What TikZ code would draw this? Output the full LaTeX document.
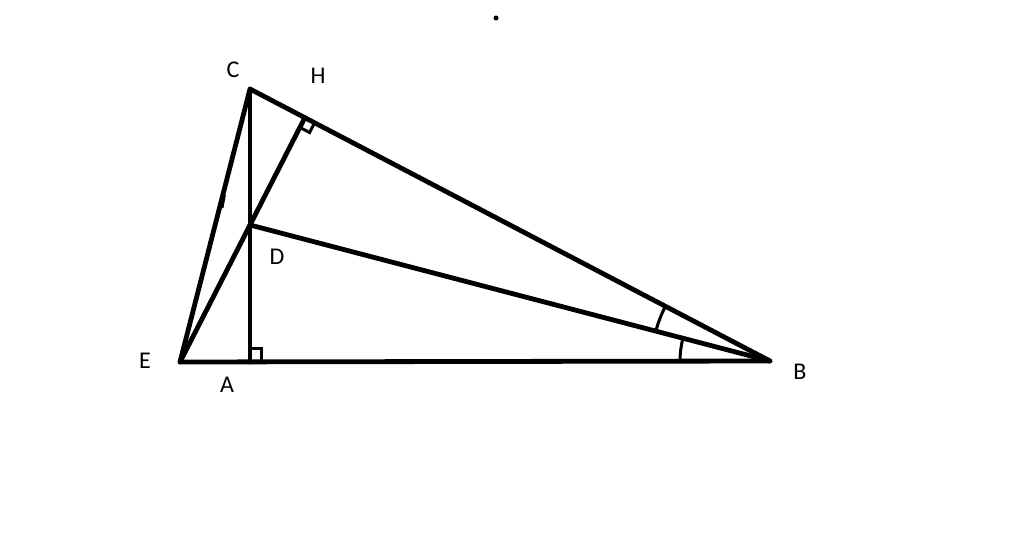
\documentclass[tikz,border=0pt]{standalone}
\usepackage{fontspec}
\setmainfont{Carlito}
\usetikzlibrary{calc}
\tikzset{
  seg/.style={line width=4.8pt, line cap=round, line join=round},
  angmark/.style={line width=3pt},
  lab/.style={font=\fontsize{24}{24}\selectfont, inner sep=0pt}
}
\begin{document}
\begin{tikzpicture}[x=1pt,y=1pt]
\useasboundingbox[fill=white] (0,0) rectangle (1024,559);
\coordinate (C) at (250,470);
\coordinate (A) at (250,197);
\coordinate (B) at (770,198);
\coordinate (E) at (180,197);
\coordinate (D) at (250,334);
\coordinate (H) at (intersection of E--D and C--B);
% main lines
\draw[seg] (E) -- (B) -- (C) -- cycle;
\draw[seg] (C) -- (A);
\draw[seg] (E) -- (H);
\draw[seg] (D) -- (B);
% right angle at A
\draw[angmark] ($(A)+(0,13)$) -- ($(A)+(11,13)$) -- ($(A)+(11,0)$);
% right angle at H
\coordinate (h1) at ($(H)!11pt!(B)$);
\coordinate (h2) at ($(H)!11pt!(E)$);
\coordinate (h3) at ($(h1)+(h2)-(H)$);
\draw[angmark] (h1) -- (h3) -- (h2);
% angle marks at B
\draw[angmark] ($(B)+(152.4:118)$) arc[start angle=152.4, end angle=165.3, radius=118];
\draw[angmark] ($(B)+(165.3:90)$) arc[start angle=165.3, end angle=180, radius=90];
% small tick on CE
\draw[line width=1.8pt] (222.5,351) -- (225,364);
% dot
\fill (496,541) circle (2.5);
% labels
\node[lab] (lC) at (233,489) {C};
\node[lab] (lH) at (318,483) {H};
\node[lab] (lD) at (277,302) {D};
\node[lab] (lE) at (145,198) {E};
\node[lab] (lA) at (227,174) {A};
\node[lab] (lB) at (800,187) {B};
\end{tikzpicture}
\end{document}
